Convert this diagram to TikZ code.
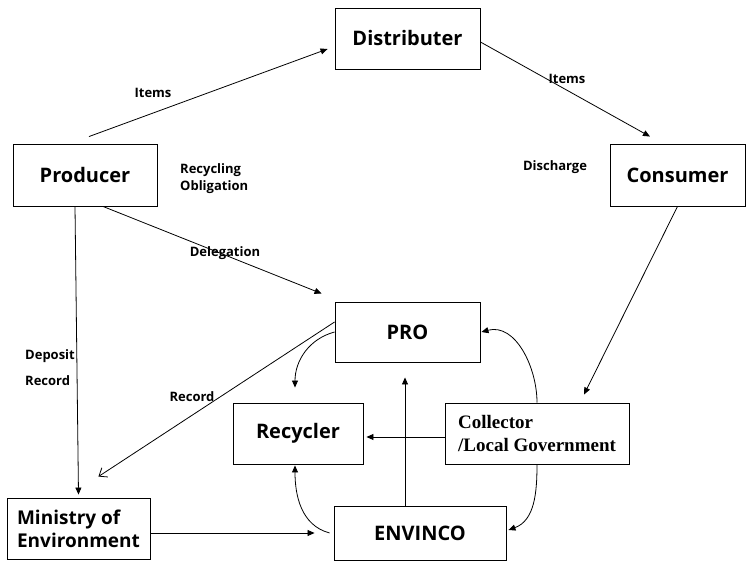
\documentclass[tikz,border=0pt]{standalone}
\usepackage{fontspec}
\setmainfont{Open Sans}
\newfontfamily\timesbold{Liberation Serif}
\usetikzlibrary{arrows.meta}

\begin{document}
\begin{tikzpicture}[x=1pt,y=1pt]
  \useasboundingbox (0,0) rectangle (746,560);
  \tikzstyle{box}=[rectangle,draw,line width=0.9pt,inner sep=0pt,font=\fontsize{20}{24}\selectfont\bfseries]
  \tikzstyle{lbl}=[inner sep=0pt,font=\fontsize{13}{17}\selectfont\bfseries]
  \tikzstyle{flow}=[line width=0.8pt,-{Triangle[length=7pt,width=6pt]}]

%% actors
  \node[box,minimum width=145pt,minimum height=61pt] (distributer) at (407.5,521.5) {Distributer};
  \node[box,minimum width=144pt,minimum height=62pt] (producer)    at (85,385)      {Producer};
  \node[box,minimum width=135pt,minimum height=62pt] (consumer)    at (677.5,385)   {Consumer};
  \node[box,minimum width=145pt,minimum height=60pt] (pro)         at (407.5,228)   {PRO};
  \node[box,minimum width=130pt,minimum height=61pt] (recycler)    at (298,126.5)   {Recycler};
  \node[box,minimum width=184pt,minimum height=61pt,align=left,
        font=\fontsize{19}{23}\selectfont\timesbold\bfseries] (collector) at (537,126.5) {Collector\\/Local Government};
  \node[box,minimum width=143pt,minimum height=61pt,align=left,
        font=\fontsize{19}{23}\selectfont\bfseries] (ministry) at (78.5,31) {Ministry of\\Environment};
  \node[box,minimum width=172pt,minimum height=54pt] (envinco)     at (420,27)      {ENVINCO};

%% flows between actors
  \draw[flow] ([xshift=4pt,yshift=7pt]producer.north) -- ([xshift=-7pt,yshift=-10.5pt]distributer.west);
  \draw[flow] ([yshift=-3.5pt]distributer.east) -- ([xshift=-27.5pt,yshift=7pt]consumer.north);
  \draw[flow] ([xshift=18pt]producer.south) -- ([xshift=-13pt,yshift=8pt]pro.north west);
  \draw[flow] ([xshift=-10pt]producer.south) -- ([yshift=3.5pt]ministry.north);
  \draw[line width=0.8pt,-{Straight Barb[length=7pt,width=11pt]}]
        ([yshift=10pt]pro.west) -- ([xshift=-52pt,yshift=21.5pt]ministry.north east);
  \draw[flow] (pro.west) to[out=195,in=90] ([xshift=-3pt,yshift=15pt]recycler.north);
  \draw[flow] ([xshift=-4pt]envinco.west) to[out=165,in=-90] ([xshift=-3pt,yshift=-1pt]recycler.south);
  \draw[flow] ([yshift=-4pt]ministry.east) -- ([xshift=-19pt]envinco.west);
  \draw[flow] ([xshift=-15pt]envinco.north) -- ([xshift=-2.5pt,yshift=-15pt]pro.south);
  \draw[flow] ([yshift=-3.5pt]collector.west) -- ([xshift=3pt,yshift=-3.5pt]recycler.east);
  \draw[flow] (collector.north) to[out=90,in=15] ([xshift=1pt]pro.east);
  \draw[flow] (collector.south) to[out=-90,in=20] ([xshift=2pt,yshift=3pt]envinco.east);
  \draw[flow] (consumer.south) -- ([xshift=47pt,yshift=8pt]collector.north);

%% labels
  \node[lbl] (items-a)    at (153,467) {Items};
  \node[lbl] (items-b)    at (567,481) {Items};
  \node[lbl] (discharge)  at (555,393) {Discharge};
  \node[lbl,anchor=west,align=left] (obligation) at (180,381) {Recycling\\Obligation};
  \node[lbl] (delegation) at (225,307) {Delegation};
  \node[lbl,anchor=west] (deposit)  at (25,204) {Deposit};
  \node[lbl,anchor=west] (record-a) at (25,179) {Record};
  \node[lbl] (record-b)   at (192,163) {Record};
\end{tikzpicture}
\end{document}
